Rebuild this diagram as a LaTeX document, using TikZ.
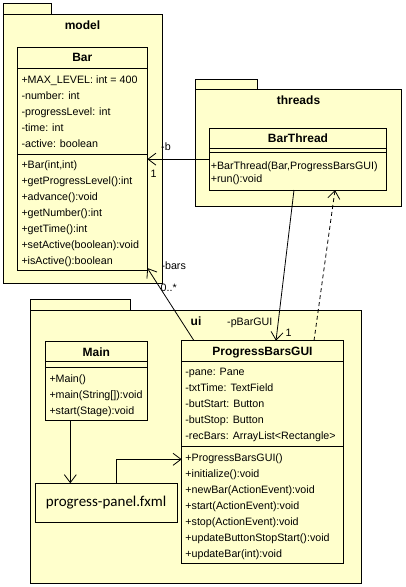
\documentclass[tikz,border=0pt]{standalone}
\usepackage{fontspec}
\setmainfont{Liberation Sans}
\newfontfamily\fxmlfont{Carlito}
\usetikzlibrary{arrows.meta}
\definecolor{umlfill}{HTML}{FFFFCC}

\begin{document}
\begin{tikzpicture}[x=1pt,y=-1pt,
  box/.style={draw, fill=umlfill, line width=0.9pt, inner sep=0pt, outer sep=0pt, anchor=north west},
  tab/.style={box, anchor=south west},
  sepline/.style={line width=0.9pt},
  title/.style={font=\fontsize{12}{14}\selectfont\bfseries, inner sep=0pt, anchor=base},
  member/.style={font=\fontsize{10.7}{12}\selectfont, inner sep=0pt, anchor=base west},
  assoc/.style={line width=0.8pt, -{Straight Barb[length=8pt,width=12pt]}},
  dep/.style={assoc, dash pattern=on 4pt off 3pt},
]
\useasboundingbox (0,0) rectangle (406,587);

% ---------- packages ----------
\node[box, minimum width=159pt, minimum height=269.2pt] (model) at (3,14.3) {};
\node[tab, minimum width=48.5pt, minimum height=11pt] (modeltab) at (model.north west) {};
\node[title] (modelname) at (82.5,29.3) {model};

\node[box, minimum width=206.7pt, minimum height=116.7pt] (threads) at (195,89.3) {};
\node[tab, minimum width=62.3pt, minimum height=10pt] (threadstab) at (threads.north west) {};
\node[title] (threadsname) at (298.5,104.3) {threads};

\node[box, minimum width=331.7pt, minimum height=272.6pt] (ui) at (30,310.7) {};
\node[tab, minimum width=100pt, minimum height=11.4pt] (uitab) at (ui.north west) {};
\node[title] (uiname) at (196,325.3) {ui};

% ---------- class Bar ----------
\node[box, minimum width=130pt, minimum height=222.7pt] (bar) at (17.3,47.3) {};
\draw[sepline] (17.3,68.7) -- (147.3,68.7);
\draw[sepline] (17.3,154) -- (147.3,154);
\node[title] (barname) at (82.3,61.6) {Bar};
\node[member] (bara1) at (21.3,83.3) {+MAX\_LEVEL: int = 400};
\node[member] (bara2) at (21.3,99.3) {-number: int};
\node[member] (bara3) at (21.3,115.3) {-progressLevel: int};
\node[member] (bara4) at (21.3,131.3) {-time: int};
\node[member] (bara5) at (21.3,147.3) {-active: boolean};
\node[member] (barm1) at (21.3,168.3) {+Bar(int,int)};
\node[member] (barm2) at (21.3,184.3) {+getProgressLevel():int};
\node[member] (barm3) at (21.3,200.3) {+advance():void};
\node[member] (barm4) at (21.3,216.3) {+getNumber():int};
\node[member] (barm5) at (21.3,232.3) {+getTime():int};
\node[member] (barm6) at (21.3,248.3) {+setActive(boolean):void};
\node[member] (barm7) at (21.3,264.3) {+isActive():boolean};

% ---------- class BarThread ----------
\node[box, minimum width=177.4pt, minimum height=61.7pt] (barthread) at (209.3,128.3) {};
\draw[sepline] (209.3,148.3) -- (386.7,148.3);
\draw[sepline] (209.3,152.7) -- (386.7,152.7);
\node[title] (barthreadname) at (298,142.6) {BarThread};
\node[member] (btm1) at (210.6,169) {+BarThread(Bar,ProgressBarsGUI)};
\node[member] (btm2) at (210.6,182.3) {+run():void};

% ---------- class Main ----------
\node[box, minimum width=102pt, minimum height=79pt] (main) at (45.3,341) {};
\draw[sepline] (45.3,361.7) -- (147.3,361.7);
\draw[sepline] (45.3,367.3) -- (147.3,367.3);
\node[title] (mainname) at (96.3,356) {Main};
\node[member] (mainm1) at (49.3,382.3) {+Main()};
\node[member] (mainm2) at (49.3,398.3) {+main(String[]):void};
\node[member] (mainm3) at (49.3,414.3) {+start(Stage):void};

% ---------- class ProgressBarsGUI ----------
\node[box, minimum width=161.6pt, minimum height=222.6pt] (pbg) at (181.7,340.7) {};
\draw[sepline] (181.7,361) -- (343.3,361);
\draw[sepline] (181.7,446) -- (343.3,446);
\node[title] (pbgname) at (262.5,355.3) {ProgressBarsGUI};
\node[member] (pbga1) at (185.2,375.7) {-pane: Pane};
\node[member] (pbga2) at (185.2,391.7) {-txtTime: TextField};
\node[member] (pbga3) at (185.2,407.7) {-butStart: Button};
\node[member] (pbga4) at (185.2,423.7) {-butStop: Button};
\node[member] (pbga5) at (185.2,439.7) {-recBars: ArrayList<Rectangle>};
\node[member] (pbgm1) at (185.2,461.7) {+ProgressBarsGUI()};
\node[member] (pbgm2) at (185.2,477.7) {+initialize():void};
\node[member] (pbgm3) at (185.2,493.7) {+newBar(ActionEvent):void};
\node[member] (pbgm4) at (185.2,509.7) {+start(ActionEvent):void};
\node[member] (pbgm5) at (185.2,525.7) {+stop(ActionEvent):void};
\node[member] (pbgm6) at (185.2,541.7) {+updateButtonStopStart():void};
\node[member] (pbgm7) at (185.2,557.7) {+updateBar(int):void};

% ---------- resource file ----------
\node[box, minimum width=142.3pt, minimum height=39pt] (fxml) at (35,483.3) {};
\node[font=\fxmlfont\fontsize{15}{18}\selectfont, inner sep=0pt] (fxmltext) at (fxml.center) {progress-panel.fxml};

% ---------- connectors ----------
\draw[assoc] (barthread.west) -- (barthread.west -| bar.east);
\draw[assoc] ([xshift=-4pt]barthread.south) -- ([xshift=13.5pt]pbg.north);
\draw[dep] ([xshift=51.5pt]pbg.north) -- ([xshift=37pt]barthread.south);
\draw[assoc] ([xshift=-68.5pt]pbg.north) -- ([yshift=2pt]bar.south east);
\draw[assoc] ([xshift=-26pt]main.south) -- ([xshift=-26pt]main.south |- fxml.north);
\draw[assoc] ([xshift=10pt]fxml.north) |- ([yshift=-7.3pt]pbg.west);

% ---------- role names and multiplicities ----------
\node[member] (roleb) at (161,150.7) {-b};
\node[member] (multb) at (150.5,177) {1};
\node[member] (rolebars) at (161.3,269.7) {-bars};
\node[member] (multbars) at (160.5,291.5) {0..*};
\node[member] (rolegui) at (227,325) {-pBarGUI};
\node[member] (multgui) at (285.5,336.3) {1};
\end{tikzpicture}
\end{document}
